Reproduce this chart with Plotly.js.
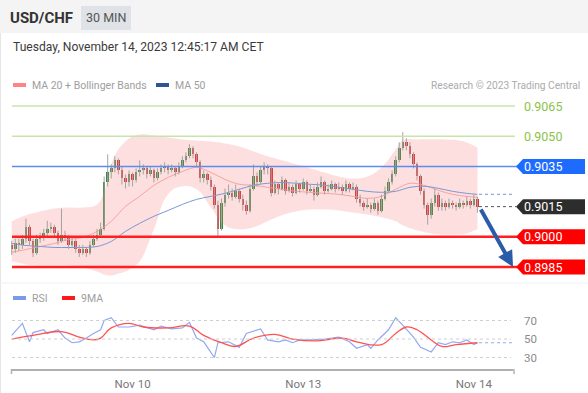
<!DOCTYPE html>
<html><head><meta charset="utf-8">
<script src="https://cdn.plot.ly/plotly-3.0.1.min.js"></script>
<style>html,body{margin:0;padding:0;background:#fff;}#chart{width:588px;height:393px;}</style>
</head><body><div id="chart"></div>
<script>
// ---------------- DATA ----------------
const opens = [0.8996,0.8994,0.8997,0.8996,0.8999,0.9005,0.8998,0.8992,0.8999,0.9000,
0.9002,0.9004,0.9005,0.9002,0.8998,0.9001,0.9000,0.8996,0.8998,0.8994,
0.8992,0.8994,0.8992,0.8996,0.8999,0.9001,0.9004,0.9027,0.9032,0.9034,
0.9038,0.9033,0.9029,0.9027,0.9031,0.9028,0.9032,0.9033,0.9034,0.9031,
0.9033,0.9029,0.9032,0.9034,0.9035,0.9033,0.9034,0.9032,0.9035,0.9038,
0.9040,0.9044,0.9041,0.9037,0.9029,0.9031,0.9028,0.9025,0.9016,0.9004,
0.9017,0.9021,0.9022,0.9020,0.9023,0.9019,0.9016,0.9013,0.9024,0.9030,
0.9027,0.9033,0.9035,0.9034,0.9022,0.9026,0.9024,0.9028,0.9023,0.9025,
0.9022,0.9026,0.9024,0.9027,0.9023,0.9024,0.9021,0.9025,0.9027,0.9023,
0.9024,0.9026,0.9024,0.9025,0.9023,0.9026,0.9024,0.9025,0.9019,0.9017,
0.9015,0.9016,0.9014,0.9017,0.9013,0.9019,0.9023,0.9027,0.9031,0.9038,
0.9044,0.9047,0.9045,0.9041,0.9036,0.9030,0.9023,0.9016,0.9011,0.9017,
0.9021,0.9015,0.9017,0.9015,0.9017,0.9016,0.9015,0.9017,0.9016,0.9018,
0.9016,0.9019];
const highs = [0.8998,0.8999,0.8999,0.9001,0.9009,0.9006,0.8999,0.9001,0.9002,0.9004,
0.9008,0.9007,0.9006,0.9003,0.9014,0.9003,0.9001,0.9000,0.8999,0.8996,
0.8996,0.8995,0.8998,0.9001,0.9004,0.9007,0.9030,0.9041,0.9036,0.9040,
0.9039,0.9035,0.9031,0.9033,0.9032,0.9034,0.9038,0.9036,0.9035,0.9035,
0.9034,0.9034,0.9036,0.9037,0.9036,0.9036,0.9035,0.9037,0.9040,0.9042,
0.9046,0.9045,0.9042,0.9038,0.9033,0.9032,0.9030,0.9026,0.9018,0.9019,
0.9024,0.9026,0.9024,0.9026,0.9024,0.9021,0.9018,0.9026,0.9036,0.9032,
0.9035,0.9037,0.9036,0.9035,0.9028,0.9027,0.9030,0.9029,0.9027,0.9026,
0.9028,0.9027,0.9029,0.9028,0.9026,0.9025,0.9027,0.9030,0.9028,0.9026,
0.9028,0.9027,0.9027,0.9026,0.9028,0.9027,0.9027,0.9026,0.9021,0.9018,
0.9019,0.9017,0.9019,0.9018,0.9021,0.9025,0.9029,0.9033,0.9040,0.9047,
0.9052,0.9049,0.9047,0.9042,0.9037,0.9031,0.9024,0.9017,0.9019,0.9024,
0.9022,0.9019,0.9018,0.9019,0.9018,0.9017,0.9019,0.9018,0.9020,0.9019,
0.9021,0.9020];
const lows = [0.8991,0.8992,0.8993,0.8994,0.8997,0.8996,0.8990,0.8991,0.8997,0.8998,
0.9000,0.9002,0.9000,0.8996,0.8997,0.8998,0.8994,0.8995,0.8992,0.8990,
0.8991,0.8990,0.8991,0.8995,0.8998,0.9000,0.9003,0.9025,0.9029,0.9032,
0.9031,0.9026,0.9024,0.9025,0.9025,0.9027,0.9030,0.9031,0.9029,0.9030,
0.9027,0.9028,0.9031,0.9032,0.9031,0.9032,0.9030,0.9031,0.9034,0.9037,
0.9039,0.9039,0.9035,0.9027,0.9027,0.9026,0.9023,0.9014,0.9000,0.9003,
0.9015,0.9019,0.9018,0.9019,0.9017,0.9013,0.9011,0.9012,0.9023,0.9025,
0.9026,0.9031,0.9031,0.9020,0.9021,0.9021,0.9023,0.9021,0.9022,0.9020,
0.9021,0.9022,0.9023,0.9021,0.9022,0.9018,0.9020,0.9024,0.9021,0.9022,
0.9023,0.9022,0.9023,0.9021,0.9022,0.9022,0.9023,0.9017,0.9015,0.9013,
0.9014,0.9012,0.9013,0.9011,0.9012,0.9018,0.9022,0.9026,0.9030,0.9037,
0.9043,0.9043,0.9039,0.9034,0.9028,0.9021,0.9014,0.9006,0.9009,0.9015,
0.9013,0.9013,0.9013,0.9014,0.9014,0.9013,0.9014,0.9014,0.9015,0.9014,
0.9015,0.9012];
const closes = [0.8994,0.8997,0.8996,0.8999,0.9005,0.8998,0.8992,0.8999,0.9000,0.9002,
0.9004,0.9005,0.9002,0.8998,0.9001,0.9000,0.8996,0.8998,0.8994,0.8992,
0.8994,0.8992,0.8996,0.8999,0.9001,0.9004,0.9027,0.9032,0.9034,0.9038,
0.9033,0.9029,0.9027,0.9031,0.9028,0.9032,0.9033,0.9034,0.9031,0.9033,
0.9029,0.9032,0.9034,0.9035,0.9033,0.9034,0.9032,0.9035,0.9038,0.9040,
0.9044,0.9041,0.9037,0.9029,0.9031,0.9028,0.9025,0.9016,0.9004,0.9017,
0.9021,0.9022,0.9020,0.9023,0.9019,0.9016,0.9013,0.9024,0.9030,0.9027,
0.9033,0.9035,0.9034,0.9022,0.9026,0.9024,0.9028,0.9023,0.9025,0.9022,
0.9026,0.9024,0.9027,0.9023,0.9024,0.9021,0.9025,0.9027,0.9023,0.9024,
0.9026,0.9024,0.9025,0.9023,0.9026,0.9024,0.9025,0.9019,0.9017,0.9015,
0.9016,0.9014,0.9017,0.9013,0.9019,0.9023,0.9027,0.9031,0.9038,0.9044,
0.9047,0.9045,0.9041,0.9036,0.9030,0.9023,0.9016,0.9011,0.9017,0.9021,
0.9015,0.9017,0.9015,0.9017,0.9016,0.9015,0.9017,0.9016,0.9018,0.9016,
0.9019,0.9015];

// Bollinger band (MA 20 + 2 sd), read at selected candles
const bandIdx = [0,4,8,12,16,20,24,26,28,30,32,34,36,40,44,48,52,56,60,64,68,72,76,80,84,88,92,96,100,104,108,110,114,118,122,126,128,131];
const bandUpper = [0.90077,0.90107,0.90126,0.90141,0.90146,0.90146,0.90161,0.90226,0.90360,0.90434,0.90474,0.90499,0.90509,0.90504,0.90494,0.90484,0.90479,0.90474,0.90464,0.90449,0.90425,0.90400,0.90380,0.90360,0.90340,0.90320,0.90300,0.90290,0.90300,0.90345,0.90434,0.90479,0.90484,0.90484,0.90484,0.90479,0.90469,0.90444];
const bandLower = [0.89878,0.89863,0.89858,0.89858,0.89858,0.89848,0.89828,0.89813,0.89808,0.89818,0.89828,0.89848,0.89878,0.90037,0.90211,0.90251,0.90236,0.90146,0.90057,0.90037,0.90047,0.90077,0.90107,0.90126,0.90136,0.90136,0.90131,0.90121,0.90111,0.90097,0.90077,0.90057,0.90032,0.90017,0.90012,0.90012,0.90017,0.90037];

// Moving averages, read at selected candles
const maIdx = [0,4,8,12,16,20,24,28,32,36,40,44,48,52,56,60,64,68,72,76,80,84,88,92,96,100,104,108,112,116,120,124,128,131];
const ma20 = [0.89923,0.89937,0.89952,0.89967,0.89987,0.89997,0.90027,0.90077,0.90151,0.90201,0.90256,0.90295,0.90325,0.90345,0.90320,0.90285,0.90261,0.90256,0.90246,0.90236,0.90226,0.90221,0.90216,0.90211,0.90201,0.90191,0.90201,0.90236,0.90266,0.90256,0.90231,0.90211,0.90201,0.90196];
const ma50 = [0.89967,0.89957,0.89952,0.89947,0.89947,0.89947,0.89952,0.89977,0.90027,0.90067,0.90102,0.90131,0.90161,0.90186,0.90201,0.90216,0.90236,0.90256,0.90266,0.90270,0.90266,0.90261,0.90256,0.90246,0.90236,0.90226,0.90221,0.90226,0.90246,0.90251,0.90241,0.90226,0.90216,0.90211];

// RSI panel
const rsiIdx = [0,3,5,6,9,10,13,15,17,19,21,23,25,26,28,30,33,36,40,42,45,48,50,52,54,57,58,61,64,66,70,72,75,77,79,81,84,88,92,95,97,100,101,103,106,108,110,113,115,118,120,122,124,126,128,130,131];
const rsiVals = [54,67,47,57,60,56,60,51,46,47,51,56,60,70,73,63,63,65,60,64,61,62,68,51,47,30,46,47,41,56,61,49,47,49,46,49,49,50,52,47,40,44,40,49,60,73,65,52,41,36,46,44,47,46,49,44,46];
const rsiMaIdx = [0,6,14,19,23,25,28,33,37,44,50,54,59,63,68,74,79,86,93,97,104,108,111,114,118,121,125,131];
const rsiMaVals = [50,54,58,52,49,51,62,67,63,62,64,54,46,42,51,55,50,48,51,47,44,56,63,60,49,42,44,46];
const rsiLevels = [70, 50, 30];

// Key levels
const resistanceLevels = [0.9065, 0.9050];
const pivotLevels = [0.9035];
const supportLevels = [0.9000, 0.8985];

// Time axis
const tickIdx = [34, 82, 130];
const tickLabels = ['Nov 10', 'Nov 13', 'Nov 14'];

// ---------------- GEOMETRY / STYLE ----------------
const W = 588, H = 393, ML = 11, MR = 75;
const PW = W - ML - MR;
const fx = px => (px - ML) / PW;
const fy = py => 1 - py / H;
const mainTopPx = 95, mainBotPx = 283, rsiTopPx = 290, rsiBotPx = 369;
const priceTop = 0.9070466, priceBot = 0.8977050;
const pricePerPx = (priceTop - priceBot) / (mainBotPx - mainTopPx);
const FONT = 'Roboto, Arial, sans-serif';

const idx = closes.map((_, i) => i);
const last = closes.length - 1;

// wick segments
const wx = [], wy = [];
idx.forEach(i => { wx.push(i, i, null); wy.push(lows[i], highs[i], null); });
const up = idx.filter(i => closes[i] >= opens[i]);
const dn = idx.filter(i => closes[i] < opens[i]);
const bodyLen = i => { const d = closes[i] - opens[i]; return Math.abs(d) < 0.00003 ? (d >= 0 ? 0.00003 : -0.00003) : d; };

const traces = [
  {x: bandIdx, y: bandUpper, type: 'scatter', mode: 'lines', line: {width: 0, shape: 'spline', smoothing: 1.3}, hoverinfo: 'skip', showlegend: false},
  {x: bandIdx, y: bandLower, type: 'scatter', mode: 'lines', fill: 'tonexty', fillcolor: 'rgba(250,120,120,0.24)', line: {width: 0, shape: 'spline', smoothing: 1.3}, hoverinfo: 'skip', showlegend: false},
  {x: maIdx, y: ma20, type: 'scatter', mode: 'lines', line: {color: '#f5a3a3', width: 1, shape: 'spline'}, hoverinfo: 'skip', showlegend: false},
  {x: maIdx, y: ma50, type: 'scatter', mode: 'lines', line: {color: '#7b98d4', width: 1, shape: 'spline'}, hoverinfo: 'skip', showlegend: false},
  {x: wx, y: wy, type: 'scatter', mode: 'lines', line: {color: '#a3a3a3', width: 1}, hoverinfo: 'skip', showlegend: false},
  {x: up, base: up.map(i => opens[i]), y: up.map(bodyLen), type: 'bar', width: 0.72, marker: {color: '#2c8a3c', line: {width: 0}}, hoverinfo: 'skip', showlegend: false},
  {x: dn, base: dn.map(i => opens[i]), y: dn.map(bodyLen), type: 'bar', width: 0.72, marker: {color: '#dc2a2a', line: {width: 0}}, hoverinfo: 'skip', showlegend: false},
  {x: rsiIdx, y: rsiVals, xaxis: 'x', yaxis: 'y2', type: 'scatter', mode: 'lines', line: {color: '#92a9f2', width: 1.2}, hoverinfo: 'skip', showlegend: false},
  {x: rsiMaIdx, y: rsiMaVals, xaxis: 'x', yaxis: 'y2', type: 'scatter', mode: 'lines', line: {color: '#ff5252', width: 1.3, shape: 'spline', smoothing: 1.2}, hoverinfo: 'skip', showlegend: false}
];

const shapes = [];
const annotations = [];
const rectPx = (x0, y0, x1, y1, color, extra) => shapes.push(Object.assign({type: 'rect', xref: 'paper', yref: 'paper', x0: fx(x0), x1: fx(x1), y0: fy(y1), y1: fy(y0), fillcolor: color, line: {width: 0}, layer: 'below'}, extra || {}));
const linePx = (x0, y0, x1, y1, color, width, dash) => shapes.push({type: 'line', xref: 'paper', yref: 'paper', x0: fx(x0), x1: fx(x1), y0: fy(y0), y1: fy(y1), line: {color: color, width: width, dash: dash || 'solid'}});
const text = (t, px, py, size, color, anchor, extra) => annotations.push(Object.assign({text: t, xref: 'paper', yref: 'paper', x: fx(px), y: fy(py), xanchor: anchor || 'left', yanchor: 'middle', showarrow: false, font: {family: FONT, size: size, color: color}}, extra || {}));

// header
rectPx(0, 0, 588, 33, '#f4f4f4');
rectPx(81, 6, 131, 30, '#dfe2e6');
text('<b>USD/CHF</b>', 8, 18, 15, '#333333');
text('30 MIN', 106, 18, 12.5, '#555555', 'center');
text('Tuesday, November 14, 2023 12:45:17 AM CET', 11, 47, 12.1, '#3a3a3a');
linePx(0.5, 33, 0.5, 393, '#e6e6e6', 1);

// main legend
rectPx(13, 83, 26, 87, '#ff8585');
text('MA 20 + Bollinger Bands', 30, 85, 10.5, '#9e9e9e');
rectPx(156, 83, 169, 87, '#2f5597');
text('MA 50', 173, 85, 10.5, '#9e9e9e');
text('Research © 2023 Trading Central', 582, 85, 10.2, '#ababab', 'right');

// separator between panels
linePx(0, 283, 588, 283, '#eceff1', 1);

// level lines + labels
const boxPath = (level, hPx) => {
  const h = hPx * pricePerPx;
  return `M ${fx(516)},${level} L ${fx(523)},${level + h} L ${fx(585)},${level + h} L ${fx(585)},${level - h} L ${fx(523)},${level - h} Z`;
};
resistanceLevels.forEach(l => {
  shapes.push({type: 'line', xref: 'paper', yref: 'y', x0: fx(12), x1: fx(515), y0: l, y1: l, line: {color: '#c8e4ab', width: 1.5}});
  annotations.push({text: l.toFixed(4), xref: 'paper', yref: 'y', x: fx(522), y: l, xanchor: 'left', yanchor: 'middle', showarrow: false, font: {family: FONT, size: 12.5, color: '#8bc34a'}});
});
const boxLevel = (l, lineColor, lineW, boxColor) => {
  if (lineColor) shapes.push({type: 'line', xref: 'paper', yref: 'y', x0: fx(12), x1: fx(517), y0: l, y1: l, line: {color: lineColor, width: lineW}});
  shapes.push({type: 'path', xref: 'paper', yref: 'y', path: boxPath(l, 7.5), fillcolor: boxColor, line: {width: 0}});
  annotations.push({text: l.toFixed(4), xref: 'paper', yref: 'y', x: fx(522), y: l, xanchor: 'left', yanchor: 'middle', showarrow: false, font: {family: FONT, size: 12.5, color: '#ffffff'}});
};
pivotLevels.forEach(l => boxLevel(l, '#5a8cf2', 1.5, '#1e6cff'));
supportLevels.forEach(l => boxLevel(l, '#ff1f1f', 2.5, '#ff0000'));

// last price / last MA dotted lines
shapes.push({type: 'line', xref: 'paper', yref: 'y', x0: fx(479), x1: fx(516), y0: closes[last], y1: closes[last], line: {color: '#555', width: 1, dash: 'dot'}});
shapes.push({type: 'line', xref: 'paper', yref: 'y', x0: fx(479), x1: fx(512), y0: ma50[ma50.length - 1], y1: ma50[ma50.length - 1], line: {color: '#8ea8e0', width: 1.2, dash: 'dot'}});
boxLevel(closes[last], null, 0, '#2d2d2d');

// forecast arrow
annotations.push({text: '', xref: 'paper', yref: 'paper', x: fx(513), y: fy(267), ax: -33, ay: -59, showarrow: true, arrowhead: 2, arrowsize: 0.8, arrowwidth: 4, arrowcolor: '#2b5ca8', standoff: 0});

// RSI panel
rectPx(13, 296, 26, 300, '#7b9be8');
text('RSI', 30, 298, 10.5, '#9e9e9e');
rectPx(62, 296, 75, 300, '#ff1a1a');
text('9MA', 79, 298, 10.5, '#9e9e9e');
rsiLevels.forEach(v => {
  shapes.push({type: 'line', xref: 'paper', yref: 'y2', x0: fx(12), x1: fx(511), y0: v, y1: v, line: {color: '#cfcfcf', width: 1, dash: 'dot'}});
  annotations.push({text: String(v), xref: 'paper', yref: 'y2', x: fx(522), y: v, xanchor: 'left', yanchor: 'middle', showarrow: false, font: {family: FONT, size: 11.5, color: '#8a8a8a'}});
});
shapes.push({type: 'line', xref: 'paper', yref: 'y2', x0: fx(479), x1: fx(513), y0: rsiVals[rsiVals.length - 1], y1: rsiVals[rsiVals.length - 1], line: {color: '#92a9f2', width: 1.2, dash: 'dot'}});
// x axis end ticks
linePx(11.5, 369, 11.5, 374, '#b0b0b0', 1.5);
linePx(514, 369, 514, 374, '#b0b0b0', 1.5);

const layout = {
  width: W, height: H,
  margin: {l: ML, r: MR, t: 0, b: 0, pad: 0},
  paper_bgcolor: '#ffffff', plot_bgcolor: '#ffffff',
  showlegend: false, barmode: 'overlay', bargap: 0,
  font: {family: FONT},
  xaxis: {domain: [0, 1], range: [-0.2, 141], anchor: 'y2', showline: true, linecolor: '#b0b0b0', linewidth: 1.5,
    tickmode: 'array', tickvals: tickIdx, ticktext: tickLabels, ticks: '', ticklabelstandoff: 4,
    tickfont: {family: FONT, size: 11.5, color: '#777'}, showgrid: false, zeroline: false, fixedrange: true},
  yaxis: {domain: [fy(mainBotPx), fy(mainTopPx)], range: [priceBot, priceTop], visible: false, fixedrange: true},
  yaxis2: {domain: [fy(rsiBotPx), fy(rsiTopPx)], range: [17.6, 103], visible: false, fixedrange: true},
  shapes: shapes, annotations: annotations
};

Plotly.newPlot('chart', traces, layout, {staticPlot: true, displayModeBar: false});
</script></body></html>
